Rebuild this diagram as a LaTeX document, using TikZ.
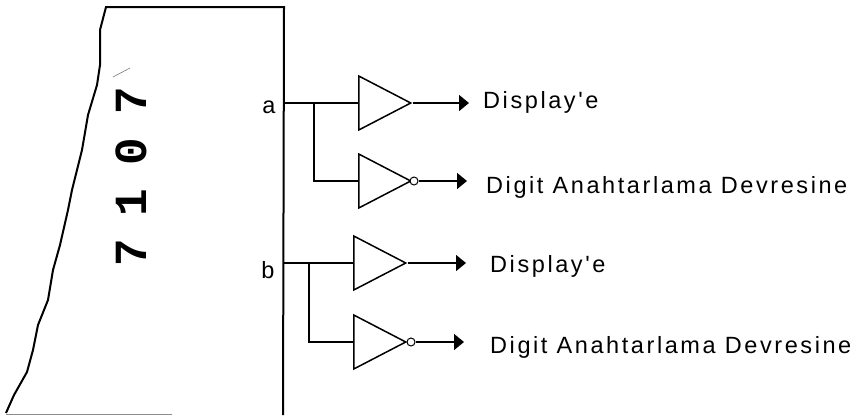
\documentclass[tikz,border=0pt]{standalone}
\usepackage{fontspec}
\setmainfont{Liberation Sans}
\newfontfamily\chipfont{Liberation Mono}[BoldFont={Liberation Mono Bold}]
\newfontfamily\labelfont{Liberation Sans}[LetterSpace=11]
\usetikzlibrary{shapes.geometric,arrows.meta}

\tikzstyle{myGate} = [draw=black, line width=1.5pt, isosceles triangle,
    isosceles triangle stretches, minimum width=54pt, minimum height=52pt,
    inner sep=0pt, anchor=lower side]
\tikzstyle{myBubble} = [draw=black, line width=1pt, fill=white, circle,
    minimum size=8pt, inner sep=0pt]
\tikzstyle{myLine} = [line width=1.5pt]
\tikzstyle{myArrow} = [line width=1.5pt, -{Triangle[length=10pt,width=16pt]}]
\tikzstyle{myLabel} = [anchor=base west, inner sep=0pt,
    font=\labelfont\fontsize{23.5}{25}\selectfont]
\tikzstyle{myPin} = [anchor=base, inner sep=0pt,
    font=\fontsize{23.5}{25}\selectfont]

\begin{document}
\begin{tikzpicture}[x=1pt,y=-1pt]
\useasboundingbox (0,0) rectangle (858,415);

\draw[line width=2pt] (6,413) -- (14,395) -- (27,372) -- (33,350) -- (38,325)
  -- (48,300) -- (53,270) -- (60,245) -- (68,210) -- (72,190) -- (82,150)
  -- (88,115) -- (97,85) -- (100,65) -- (100,30) -- (106,7) -- (284,7)
  -- (283,415);
\draw[line width=1pt, black!45] (6,414) -- (172,414);
\draw[line width=0.5pt, black!60] (113,77) -- (130,68);

\node[rotate=90, inner sep=0pt, font=\chipfont\bfseries\fontsize{46}{46}\selectfont]
  (Chip) at (131,177) {7\hspace{23pt}1\hspace{23pt}0\hspace{23pt}7};

\node[myPin] (PinLabelA) at (269,113) {a};
\node[myPin] (PinLabelB) at (268,278) {b};

\coordinate (PinA) at (283,103);
\coordinate (PinB) at (283,263);
\coordinate (BranchA) at (314,103);
\coordinate (BranchB) at (309,263);

  \node[myGate] (GateA1) at (358,103) {};
  \node[myGate] (GateA2) at (358,181) {};
  \node[myGate] (GateB1) at (353,263) {};
  \node[myGate] (GateB2) at (353,342) {};
    \node[myBubble] (BubbleA2) at (414,181) {};
    \node[myBubble] (BubbleB2) at (411,342) {};

\node[myLabel] (TextA1) at (483,108) {Display'e};
\node[myLabel] (TextA2) at (486,193) {Digit Anahtarlama Devresine};
\node[myLabel] (TextB1) at (490,272) {Display'e};
\node[myLabel] (TextB2) at (490,353) {Digit Anahtarlama Devresine};

\draw[myLine] (PinA) -- (GateA1.lower side);
\draw[myLine] (PinB) -- (GateB1.lower side);
\draw[myLine] (BranchA) |- (GateA2.lower side);
\draw[myLine] (BranchB) |- (GateB2.lower side);

\draw[myArrow] (GateA1.apex) -- (GateA1.apex -| 469,0);
\draw[myArrow] (BubbleA2.east) -- (BubbleA2.east -| 467,0);
\draw[myArrow] (GateB1.apex) -- (GateB1.apex -| 466,0);
\draw[myArrow] (BubbleB2.east) -- (BubbleB2.east -| 464,0);
\end{tikzpicture}
\end{document}
